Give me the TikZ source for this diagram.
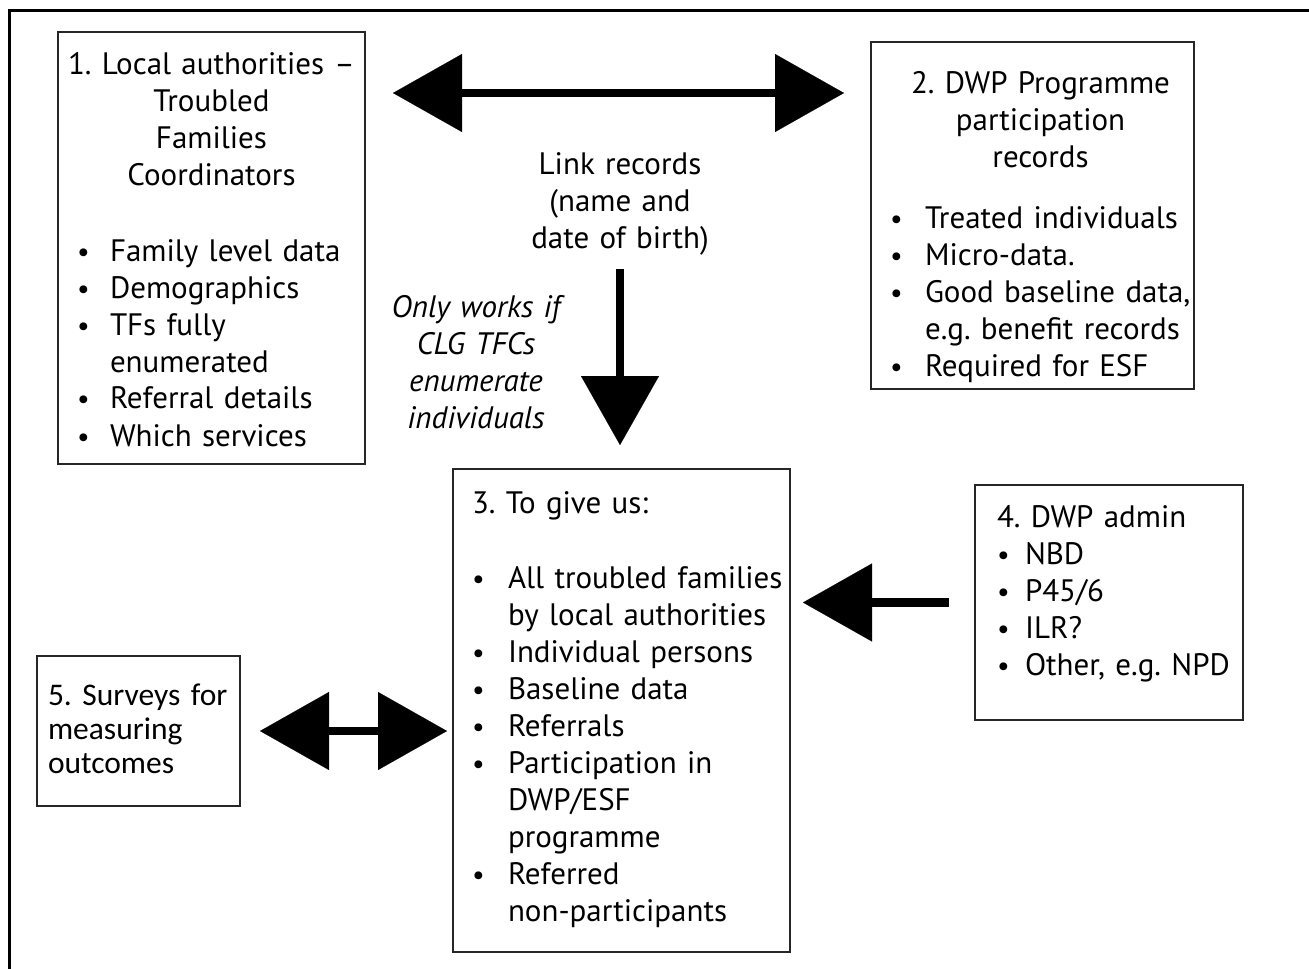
\documentclass[tikz,border=0pt]{standalone}
\usepackage{fontspec}
\setmainfont{PT Sans}
\newfontfamily\surveyfont{Carlito}
\usetikzlibrary{arrows.meta,positioning}
\frenchspacing

% bullet lines (fixed breaks, hanging indent)
\newlength\bulind
\setlength\bulind{33pt}
\newcommand\smallbul{\raisebox{0pt}{\fontsize{28pt}{28pt}\selectfont\textbullet}}
\newcommand\bitem[1]{\makebox[\bulind][l]{\smallbul}\mbox{#1}}
\newcommand\bcont[1]{\hspace*{\bulind}\mbox{#1}}
\newcommand\ctrline[1]{\makebox[\linewidth][c]{#1}}

\begin{document}
\begin{tikzpicture}[x=1pt, y=-1pt,
    txt/.style={font=\fontsize{31pt}{37pt}\selectfont},
    infobox/.style={txt, draw=black!85, line width=1.6pt, anchor=north west,
        align=left, inner ysep=0pt, outer sep=0pt},
    note/.style={txt, align=center, inner sep=0pt, anchor=north, text height=25pt},
    fatline/.style={line width=8.5pt, line cap=butt},
    fathead/.style={fatline, -{Triangle[length=69pt, width=78pt, line width=0.1pt]}},
    fatboth/.style={fatline, {Triangle[length=69pt, width=78pt, line width=0.1pt]}-{Triangle[length=69pt, width=78pt, line width=0.1pt]}}]

        % Page and frame
        \useasboundingbox (0,0) rectangle (1309,969);
        \clip (0,0) rectangle (1309,969);
        \draw[line width=3pt] (9,990) |- (1330,10);

        % 1. Local authorities
        \node[infobox, text width=269pt, inner xsep=19pt, text height=42pt, text depth=390pt] (lacoord) at (58,32) {%
            \setlength\bulind{33pt}%
            \ctrline{1. Local authorities –}\\
            \ctrline{Troubled}\\
            \ctrline{Families}\\
            \ctrline{Coordinators}\\[39pt]
            \bitem{Family level data}\\
            \bitem{Demographics}\\
            \bitem{TFs fully}\\
            \bcont{enumerated}\\
            \bitem{Referral details}\\
            \bitem{Which services}};

        % 2. DWP programme records
        \node[infobox, text width=285pt, inner xsep=19pt, text height=51pt, text depth=296pt] (dwpprog) at (871,42) {%
            \setlength\bulind{35pt}%
            \ctrline{\hspace{16pt}2. DWP Programme}\\
            \ctrline{\hspace{16pt}participation}\\
            \ctrline{\hspace{16pt}records}\\[24pt]
            \bitem{Treated individuals}\\
            \bitem{Micro-data.}\\
            \bitem{Good baseline data,}\\
            \bcont{e.g. benefit records}\\
            \bitem{Required for ESF}};

        % 3. To give us
        \node[infobox, text width=299pt, inner xsep=19pt, text height=44pt, text depth=439pt] (togive) at (453,469) {%
            \setlength\bulind{36pt}%
            3. To give us:\\[38pt]
            \bitem{All troubled families}\\
            \bcont{by local authorities}\\
            \bitem{Individual persons}\\
            \bitem{Baseline data}\\
            \bitem{Referrals}\\
            \bitem{Participation in}\\
            \bcont{DWP/ESF}\\
            \bcont{programme}\\
            \bitem{Referred}\\
            \bcont{non-participants}};

        % 4. DWP admin
        \node[infobox, text width=224pt, inner xsep=22pt, text height=42pt, text depth=193pt] (dwpadmin) at (975,485) {%
            \setlength\bulind{28pt}%
            4. DWP admin\\
            \bitem{NBD}\\
            \bitem{P45/6}\\
            \bitem{ILR?}\\
            \bitem{Other, e.g. NPD}};

        % 5. Surveys
        \node[infobox, font=\surveyfont\fontsize{31.5pt}{34pt}\selectfont, text width=181pt, inner xsep=11pt,
            text height=49pt, text depth=101pt] (surveys) at (37,656) {%
            \mbox{5. Surveys for}\\
            measuring\\
            outcomes};

        % Notes
        \node[note, text width=220pt] (linktxt) at (620,149) {Link records\\(name and\\date of birth)};
        \node[note, text width=200pt, font=\fontsize{31pt}{37pt}\selectfont\itshape] (onlyif) at (476,292)
            {Only works if\\CLG TFCs\\enumerate\\individuals};

        % Arrows
        \draw[fatboth, shorten <=28pt, shorten >=27pt] ([yshift=-61pt]lacoord.north east) coordinate (lnk) -- (lnk -| dwpprog.west);
        \draw[fathead, shorten <=14pt, shorten >=24pt] (linktxt.south) -- (linktxt.south |- togive.north);
        \draw[fathead, shorten <=26pt, shorten >=13pt] (dwpadmin.west) -- (dwpadmin.west -| togive.east);
        \draw[fatboth, shorten <=20pt, shorten >=6pt] (surveys.east) -- (surveys.east -| togive.west);

\end{tikzpicture}
\end{document}
